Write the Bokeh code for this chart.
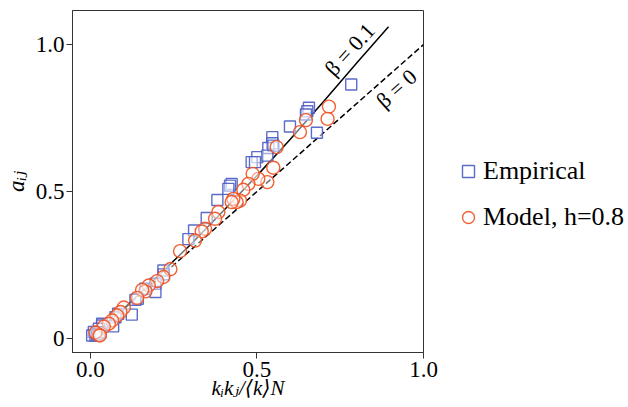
from bokeh.plotting import figure
from bokeh.models import Label, Legend, LegendItem, FixedTicker
from bokeh.layouts import row
from bokeh.embed import file_html
from bokeh.resources import INLINE

# Empirical (squares)
emp_x = [0.783, 0.656, 0.651, 0.647, 0.599, 0.680, 0.546, 0.546, 0.534, 0.549,
         0.501, 0.531, 0.484, 0.494, 0.424, 0.419, 0.414, 0.381, 0.349, 0.311,
         0.294, 0.219, 0.220, 0.195, 0.195, 0.165, 0.142, 0.135, 0.124, 0.083,
         0.075, 0.068, 0.035, 0.035, 0.025, 0.010, 0.005, 0.015, 0.020, 0.030]
emp_y = [0.864, 0.785, 0.773, 0.762, 0.721, 0.700, 0.685, 0.664, 0.648, 0.656,
         0.617, 0.622, 0.600, 0.600, 0.526, 0.520, 0.509, 0.471, 0.410, 0.367,
         0.338, 0.231, 0.218, 0.186, 0.158, 0.169, 0.135, 0.131, 0.081, 0.084,
         0.072, 0.041, 0.050, 0.044, 0.033, 0.022, 0.010, 0.010, 0.014, 0.021]

# Model, h=0.8 (circles)
mod_x = [0.716, 0.712, 0.647, 0.629, 0.559, 0.549, 0.531, 0.504, 0.487, 0.474,
         0.459, 0.449, 0.439, 0.429, 0.424, 0.384, 0.374, 0.344, 0.334, 0.314,
         0.269, 0.240, 0.219, 0.200, 0.175, 0.165, 0.155, 0.140, 0.100, 0.090,
         0.080, 0.065, 0.055, 0.040, 0.025, 0.015, 0.028]
mod_y = [0.789, 0.747, 0.743, 0.702, 0.651, 0.581, 0.532, 0.543, 0.560, 0.526,
         0.506, 0.469, 0.464, 0.475, 0.464, 0.430, 0.407, 0.373, 0.364, 0.333,
         0.297, 0.236, 0.209, 0.195, 0.180, 0.160, 0.165, 0.138, 0.105, 0.090,
         0.078, 0.061, 0.050, 0.040, 0.012, 0.020, 0.010]

# Theory curves
beta01_x = [0.0, 0.1, 0.2, 0.3, 0.4, 0.5, 0.6, 0.7, 0.8, 0.895]
beta01_y = [0.0, 0.102, 0.209, 0.319, 0.435, 0.554, 0.678, 0.806, 0.938, 1.061]
beta0_x = [0.0, 1.0]
beta0_y = [0.0, 1.0]

x_ticks = [0.0, 0.5, 1.0]
x_tick_labels = ["0.0", "0.5", "1.0"]
y_ticks = [0.0, 0.5, 1.0]
y_tick_labels = ["0", "0.5", "1.0"]
series_labels = ["Empirical", "Model, h=0.8"]

SERIF = "Liberation Serif, DejaVu Serif"
BLUE = "#4a5cc2"
ORANGE = "#f0501e"

p = figure(width=438, height=406, x_range=(-0.054, 1.0), y_range=(-0.048, 1.116),
           output_backend="svg", toolbar_location=None,
           min_border_left=72, min_border_right=15, min_border_top=10, min_border_bottom=54)
p.grid.visible = False
p.outline_line_color = "#333333"
p.outline_line_width = 1
p.background_fill_color = "white"
p.border_fill_color = "white"

for ax, ticks, labels in ((p.xaxis[0], x_ticks, x_tick_labels), (p.yaxis[0], y_ticks, y_tick_labels)):
    ax.ticker = FixedTicker(ticks=ticks)
    ax.major_label_overrides = {t: l for t, l in zip(ticks, labels)}
    ax.major_label_text_font = SERIF
    ax.major_label_text_font_size = "23px"
    ax.major_label_text_color = "black"
    ax.major_tick_out = 6
    ax.major_tick_in = 0
    ax.minor_tick_out = 0
    ax.minor_tick_in = 0
    ax.axis_line_color = "#333333"
    ax.major_tick_line_color = "#333333"
    ax.major_label_standoff = 2
    ax.axis_label_text_font = SERIF
    ax.axis_label_text_font_style = "italic"
    ax.axis_label_text_color = "black"

xa = p.xaxis[0]
xa.axis_label = "kᵢkⱼ/⟨k⟩N"
xa.axis_label_text_font_size = "21px"
xa.major_label_standoff = 3
xa.axis_label_standoff = -4
ya = p.yaxis[0]
ya.axis_label = "aᵢⱼ"
ya.axis_label_text_font_size = "23px"
ya.axis_label_standoff = 4

p.line(beta0_x, beta0_y, line_color="black", line_width=1.5, line_dash="6 3")
p.line(beta01_x, beta01_y, line_color="black", line_width=1.5)

sq_style = dict(marker="square", line_color=BLUE, line_width=1.4,
                fill_color="white", fill_alpha=0.45, line_alpha=0.9)
ci_style = dict(marker="circle", line_color=ORANGE, line_width=1.4,
                fill_color="white", fill_alpha=0.45, line_alpha=0.9)
p.scatter(emp_x, emp_y, size=11, **sq_style)
p.scatter(mod_x, mod_y, size=13, **ci_style)

# beta labels
p.add_layout(Label(x=0.778, y=0.983, text="β = 0.1", angle=0.83, text_align="center",
                   text_baseline="middle", text_font=SERIF, text_font_size="22px",
                   text_color="black"))
p.add_layout(Label(x=0.919, y=0.850, text="β = 0", angle=0.73, text_align="center",
                   text_baseline="middle", text_font=SERIF, text_font_size="22px",
                   text_color="black"))

# legend panel (separate figure to the right)
lf = figure(width=189, height=406, x_range=(0, 1), y_range=(0, 1),
            output_backend="svg", toolbar_location=None,
            min_border_left=0, min_border_right=0, min_border_top=0, min_border_bottom=0)
lf.axis.visible = False
lf.grid.visible = False
lf.outline_line_color = None
lf.background_fill_color = "white"
lf.border_fill_color = "white"
lsq = lf.scatter([5], [5], size=11, **sq_style)
lci = lf.scatter([5], [5], size=13, **ci_style)
legend = Legend(items=[LegendItem(label=series_labels[0], renderers=[lsq]),
                       LegendItem(label=series_labels[1], renderers=[lci])],
                location=(15, 120), glyph_width=30, glyph_height=30,
                label_text_font=SERIF, label_text_font_size="26px",
                label_text_color="black",
                label_standoff=0, spacing=16, padding=0, margin=0,
                border_line_color=None, background_fill_alpha=0)
lf.add_layout(legend)

layout = row(p, lf)
open("out.html", "w").write(file_html(layout, INLINE))
